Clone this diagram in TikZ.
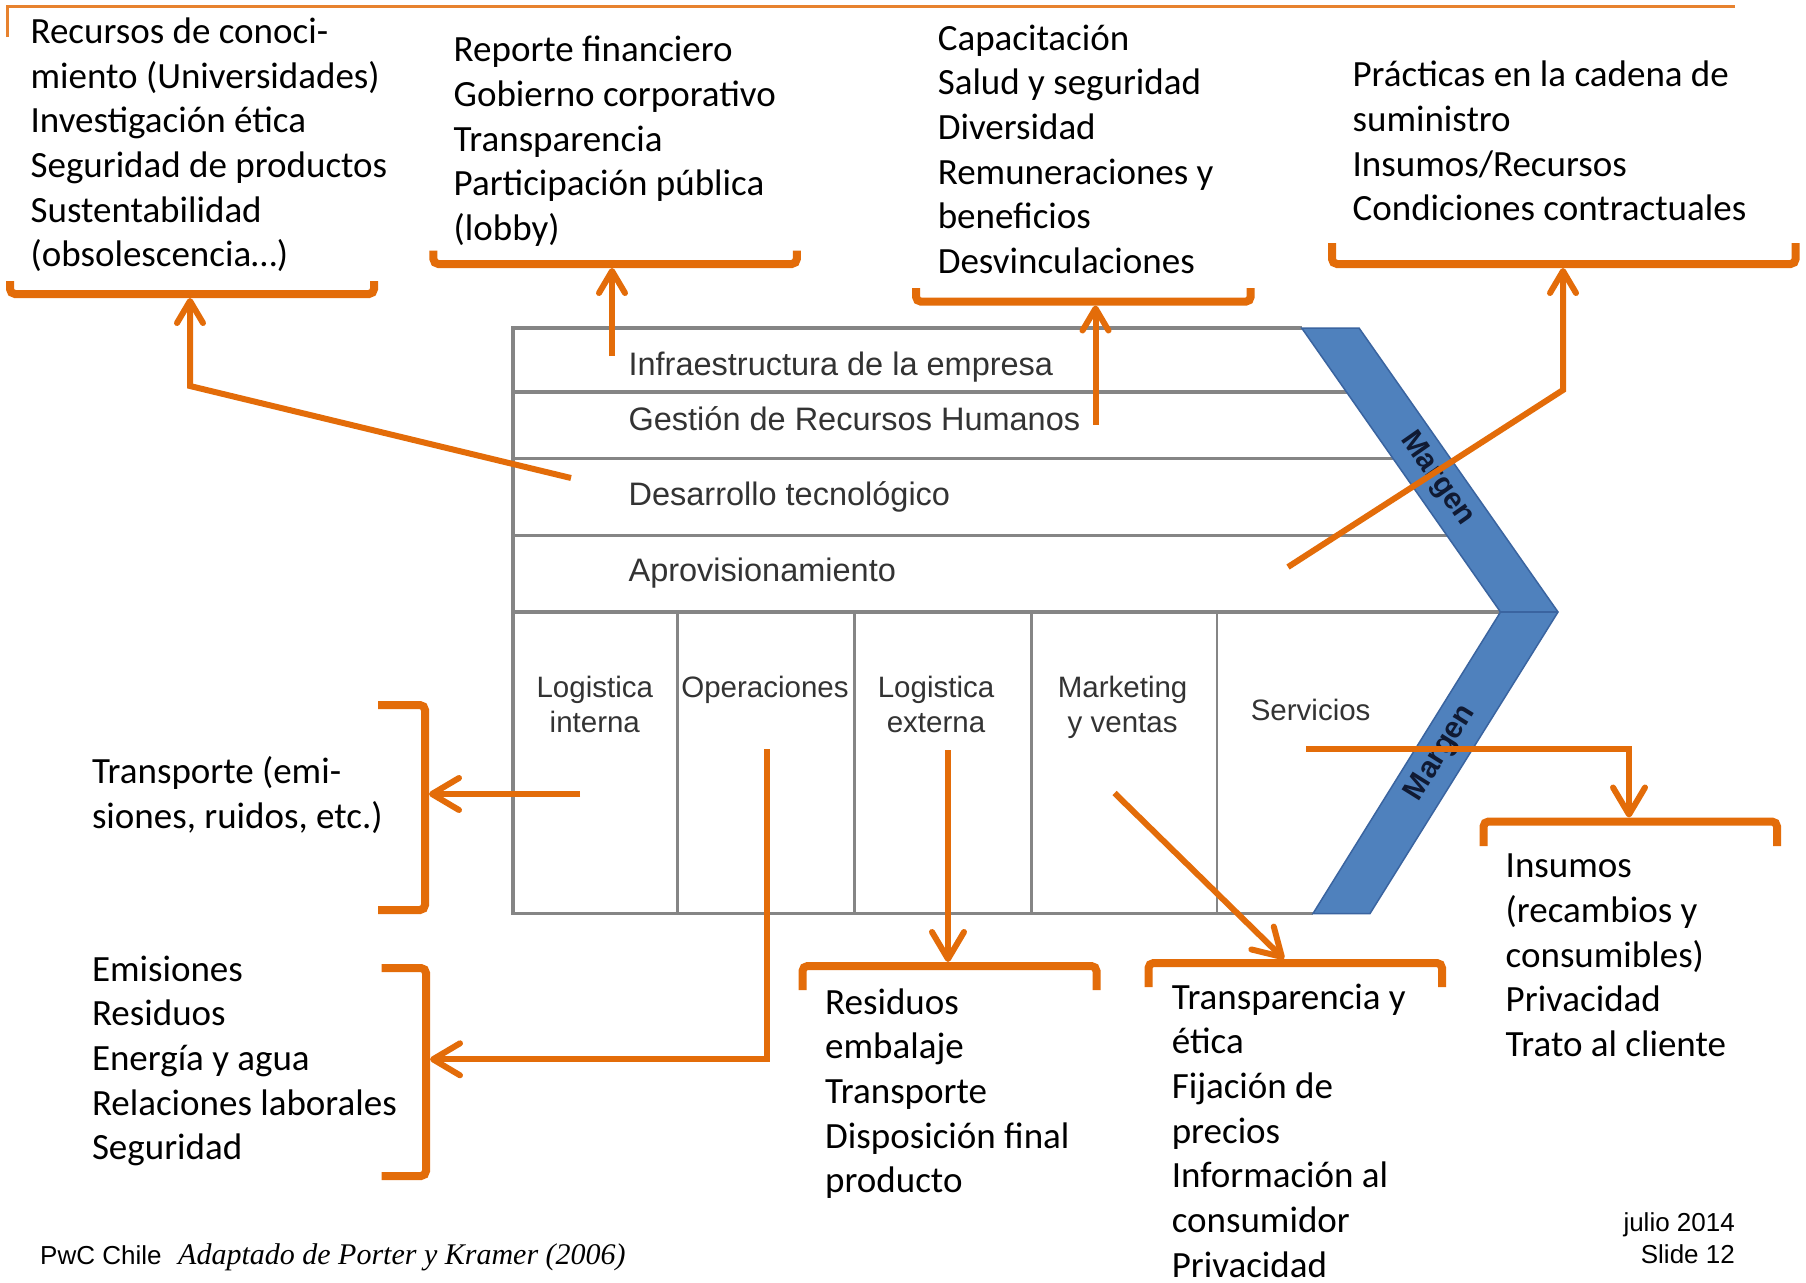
\documentclass[tikz,border=0pt]{standalone}
\usepackage{fontspec}
\setmainfont{Carlito}
\newfontfamily\sansf{Liberation Sans}
\newfontfamily\seriff{Liberation Serif}
\usetikzlibrary{arrows.meta}

\definecolor{pwcorange}{HTML}{E36C09}
\definecolor{chevblue}{HTML}{4F81BD}
\definecolor{chevedge}{HTML}{3A64A0}
\definecolor{boxline}{HTML}{858585}
\definecolor{boxtext}{HTML}{333333}
\definecolor{margtext}{HTML}{101A33}

% stacked lines (separated by \cr) whose baseline is the first line's baseline
\newcommand{\stackL}[1]{\vtop{\halign{##\hfil\cr#1\crcr}}}
\newcommand{\stackC}[1]{\vtop{\halign{\hfil##\hfil\cr#1\crcr}}}

\begin{document}
\begin{tikzpicture}[x=1pt,y=-1pt,
  note/.style={anchor=base west, inner sep=0pt, font=\fontsize{37}{44.7}\selectfont},
  rowlabel/.style={anchor=base west, inner sep=0pt, text=boxtext, font=\sansf\fontsize{32.5}{39}\selectfont},
  collabel/.style={anchor=base, inner sep=0pt, text=boxtext, font=\sansf\fontsize{29.5}{35.4}\selectfont},
  marginlabel/.style={inner sep=0pt, text=margtext, font=\sansf\bfseries\fontsize{30}{36}\selectfont},
  footer/.style={inner sep=0pt, font=\sansf\fontsize{26}{31.5}\selectfont},
  gridline/.style={draw=boxline, line width=3.2pt},
  bracket/.style={draw=pwcorange, line width=8pt, rounded corners=5pt},
  link/.style={draw=pwcorange, line width=6pt, -{Straight Barb[round,length=27pt,width=32pt]}},
  shortlink/.style={link, -{Straight Barb[round,length=22pt,width=26pt]}},
]
% page
\fill[white] (0,0) rectangle (1806,1282);
\useasboundingbox (0,0) rectangle (1806,1282);

% top rule
\draw[pwcorange!85, line width=3pt] (7,37) -- (7,6) -- (1735,6);

% value chain frame
\draw[gridline] (1301.7,328) -- (513,328) -- (513,913.5) -- (1313,913.5);
\draw[gridline] (513,392) -- (1346.5,392);
\draw[gridline] (513,458.4) -- (1393,458.4);
\draw[gridline] (513,535.5) -- (1447,535.5);
\draw[gridline] (513,612) -- (1500.5,612);
\foreach \cx in {677.5,854.3,1031.7,1217}
  \draw[gridline, line width=2.6pt] (\cx,612) -- (\cx,913.5);

% margin chevron
\filldraw[fill=chevblue, draw=chevedge, line width=1.5pt]
  (1301.7,328) -- (1359,328) -- (1558,612) -- (1370,913.5) -- (1313,913.5) -- (1500.5,612) -- cycle;
\draw[chevedge, line width=2.5pt] (1500.5,612) -- (1558,612);
\node[marginlabel, rotate=-55] (m1) at (1437,479) {Margen};
\node[marginlabel, rotate=58] (m2) at (1441,753) {Margen};

% support activities
\node[rowlabel] (r1) at (628.4,375) {Infraestructura de la empresa};
\node[rowlabel] (r2) at (628.4,430.5) {Gestión de Recursos Humanos};
\node[rowlabel] (r3) at (628.4,505.5) {Desarrollo tecnológico};
\node[rowlabel] (r4) at (628.4,581) {Aprovisionamiento};

% primary activities
\node[collabel] (c1) at (594.8,697.3) {\stackC{Logistica\cr interna}};
\node[collabel] (c2) at (765,697.3) {Operaciones};
\node[collabel] (c3) at (936,697.3) {\stackC{Logistica\cr externa}};
\node[collabel] (c4) at (1122.6,697.3) {\stackC{Marketing\cr y ventas}};
\node[collabel, anchor=base west] (c5) at (1250.6,720) {Servicios};

% impact lists
\node[note] (n1) at (30.4,43.3) {\stackL{Recursos de conoci-\cr miento (Universidades)\cr Investigación ética\cr Seguridad de productos\cr Sustentabilidad\cr (obsolescencia…)}};
\node[note] (n2) at (453.5,61.7) {\stackL{Reporte financiero\cr Gobierno corporativo\cr Transparencia\cr Participación pública\cr (lobby)}};
\node[note] (n3) at (937.6,50) {\stackL{Capacitación\cr Salud y seguridad\cr Diversidad\cr Remuneraciones y\cr beneficios\cr Desvinculaciones}};
\node[note] (n4) at (1352.4,86.7) {\stackL{Prácticas en la cadena de\cr suministro\cr Insumos/Recursos\cr Condiciones contractuales}};
\node[note] (n5) at (91.8,783.6) {\stackL{Transporte (emi-\cr siones, ruidos, etc.)}};
\node[note] (n6) at (91.8,981) {\stackL{Emisiones\cr Residuos\cr Energía y agua\cr Relaciones laborales\cr Seguridad}};
\node[note] (n7) at (825,1014) {\stackL{Residuos\cr embalaje\cr Transporte\cr Disposición final\cr producto}};
\node[note] (n8) at (1171.6,1009) {\stackL{Transparencia y\cr ética\cr Fijación de\cr precios\cr Información al\cr consumidor\cr Privacidad}};
\node[note] (n9) at (1505.5,877.7) {\stackL{Insumos\cr (recambios y\cr consumibles)\cr Privacidad\cr Trato al cliente}};

% brackets
\draw[bracket] (10,281) -- (10,294) -- (374,294) -- (374,281);
\draw[bracket] (433.4,250.7) -- (433.4,264) -- (796.8,264) -- (796.8,250.7);
\draw[bracket] (916,288) -- (916,301.7) -- (1250.7,301.7) -- (1250.7,288);
\draw[bracket] (1332,243) -- (1332,264) -- (1795.6,264) -- (1795.6,243);
\draw[bracket] (378,705) -- (425,705) -- (425,910) -- (378,910);
\draw[bracket] (381.7,968) -- (426,968) -- (426,1176) -- (381.7,1176);
\draw[bracket] (802.5,990) -- (802.5,966) -- (1096.5,966) -- (1096.5,990);
\draw[bracket] (1148.5,987) -- (1148.5,963) -- (1442,963) -- (1442,987);
\draw[bracket] (1483.5,846) -- (1483.5,821.5) -- (1777,821.5) -- (1777,846);

% link end points
\coordinate (s1) at (571,478);   \coordinate (k1) at (190,386);   \coordinate (t1) at (190,298);
\coordinate (s2) at (612,356);   \coordinate (t2) at (612,268);
\coordinate (s3) at (1095.5,424.5); \coordinate (t3) at (1095.5,305.5);
\coordinate (s4) at (1288,567);  \coordinate (k4) at (1563,390);  \coordinate (t4) at (1563,268);
\coordinate (s5) at (580,794);   \coordinate (t5) at (429,794);
\coordinate (s6) at (766.5,749); \coordinate (k6) at (766.5,1059.3); \coordinate (t6) at (430,1059.3);
\coordinate (s7) at (948,750);   \coordinate (t7) at (948,962);
\coordinate (s8) at (1114.5,793); \coordinate (t8) at (1284,959);
\coordinate (s9) at (1306,749);  \coordinate (k9) at (1629,749);  \coordinate (t9) at (1629,817.5);

% links
\draw[shortlink] (s1) -- (k1) -- (t1);
\draw[shortlink] (s2) -- (t2);
\draw[shortlink] (s3) -- (t3);
\draw[shortlink] (s4) -- (k4) -- (t4);
\draw[link] (s5) -- (t5);
\draw[link] (s6) -- (k6) -- (t6);
\draw[link] (s7) -- (t7);
\draw[link] (s8) -- (t8);
\draw[link] (s9) -- (k9) -- (t9);

% footer
\node[footer, anchor=base west] (pwc) at (40,1264) {PwC Chile};
\node[inner sep=0pt, anchor=base west, font=\seriff\itshape\fontsize{30}{36}\selectfont] (src) at (178,1264) {Adaptado de Porter y Kramer (2006)};
\node[footer, anchor=base east] (date) at (1735,1231.6) {julio 2014};
\node[footer, anchor=base east] (slide) at (1735,1263.5) {Slide 12};
\end{tikzpicture}
\end{document}
